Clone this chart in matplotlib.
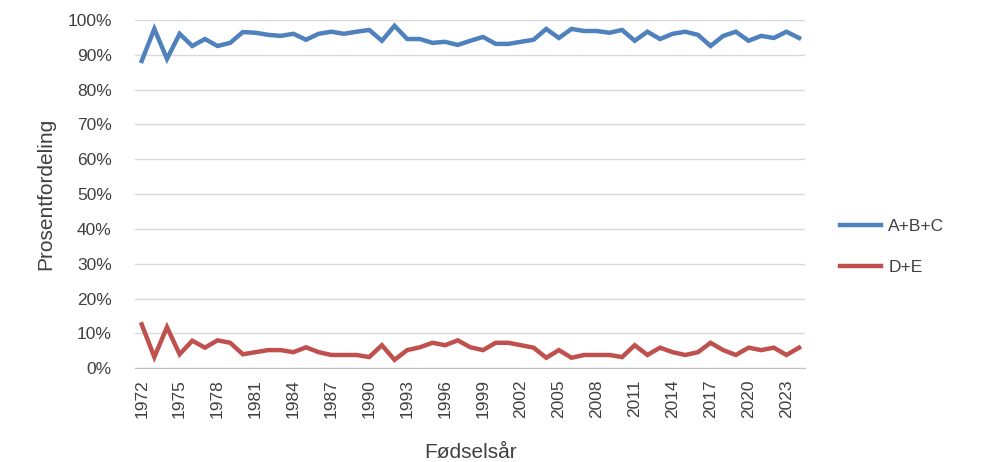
import numpy as np
import matplotlib.pyplot as plt
from matplotlib.ticker import PercentFormatter

years = list(range(1972, 2025))
abc = [88.2, 97.4, 88.8, 96.0, 92.5, 94.5, 92.5, 93.4, 96.5, 96.3,
       95.7, 95.4, 96.0, 94.3, 96.0, 96.6, 96.0, 96.6, 97.1, 94.0,
       98.3, 94.5, 94.5, 93.4, 93.7, 92.8, 94.0, 95.1, 93.1, 93.1,
       93.7, 94.3, 97.4, 94.8, 97.4, 96.8, 96.8, 96.3, 97.1, 94.0,
       96.6, 94.5, 96.0, 96.6, 95.7, 92.5, 95.4, 96.6, 94.0, 95.4,
       94.8, 96.6, 94.8]
de = [12.6, 3.2, 11.8, 4.0, 7.9, 5.9, 8.0, 7.3, 4.0, 4.6,
      5.2, 5.2, 4.6, 6.0, 4.6, 3.8, 3.8, 3.8, 3.2, 6.6,
      2.4, 5.2, 6.0, 7.3, 6.6, 8.0, 6.0, 5.2, 7.3, 7.3,
      6.6, 5.9, 3.0, 5.2, 3.0, 3.8, 3.8, 3.8, 3.2, 6.6,
      3.8, 5.9, 4.6, 3.8, 4.6, 7.3, 5.2, 3.8, 5.9, 5.2,
      5.9, 3.8, 5.9]

plt.rcParams['font.family'] = ['Liberation Sans', 'DejaVu Sans']

fig = plt.figure(figsize=(9.81, 4.62), dpi=100)
ax = fig.add_axes([0.138, 0.203, 0.683, 0.754])

ax.plot(years, abc, color='#4F81BD', lw=3.2, label='A+B+C', solid_joinstyle='miter')
ax.plot(years, de, color='#C0504D', lw=3.2, label='D+E', solid_joinstyle='miter')

ax.set_ylim(0, 100)
ax.set_yticks(np.arange(0, 101, 10))
ax.yaxis.set_major_formatter(PercentFormatter(decimals=0))
ax.set_xlim(1971.5, 2024.5)
ax.set_xticks(years[::3])
ax.set_xticklabels([str(y) for y in years[::3]], rotation=90)

ax.grid(axis='y', color='#d9d9d9', lw=1)
ax.set_axisbelow(True)
for s in ['top', 'right', 'left']:
    ax.spines[s].set_visible(False)
ax.spines['bottom'].set_color('#bfbfbf')
ax.tick_params(axis='y', length=0, labelsize=12.5, colors='#404040', pad=17)
ax.tick_params(axis='x', length=0, labelsize=12.5, colors='#404040', pad=8)

ax.set_ylabel('Prosentfordeling', fontsize=15, color='#404040', labelpad=9)
ax.set_xlabel('Fødselsår', fontsize=15, color='#404040', labelpad=18)

fig.legend(loc='center left', bbox_to_anchor=(0.84, 0.465), frameon=False,
           fontsize=12.5, handlelength=2.4, handletextpad=0.4,
           labelspacing=1.5, labelcolor='#404040')

fig.savefig('out.png', dpi=100)
